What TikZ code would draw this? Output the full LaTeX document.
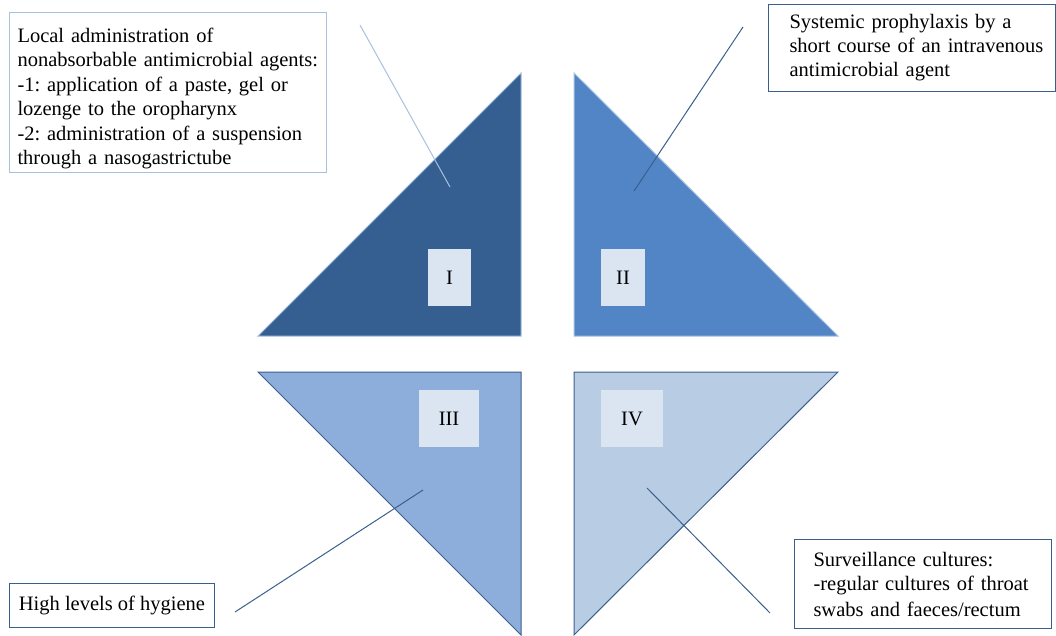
\documentclass[tikz,border=0pt]{standalone}
\usepackage{fontspec}
\setmainfont{Liberation Serif}
\usetikzlibrary{positioning}
\definecolor{quadI}{HTML}{365F91}
\definecolor{quadII}{HTML}{5185C5}
\definecolor{quadIII}{HTML}{8DAEDA}
\definecolor{quadIV}{HTML}{B8CCE4}
\definecolor{numfill}{HTML}{DBE5F1}
\definecolor{lightedge}{HTML}{A7C0DE}
\definecolor{darkedge}{HTML}{3A5F8E}
\frenchspacing

\begin{document}
\begin{tikzpicture}[x=1pt, y=-1pt, font=\fontsize{20.5}{24}\selectfont,
    tri/.style={fill=#1, line width=1pt, line join=miter},
    num/.style={fill=numfill, inner sep=0pt, minimum height=57pt},
    note/.style={draw=darkedge, line width=1pt, anchor=north west, align=left},
    leader/.style={draw=darkedge, line width=1pt}]

  \useasboundingbox (0,0) rectangle (1056,636);

  % the four quadrants
  \filldraw[tri=quadI, draw=lightedge] (258,336) -- (521,73) -- (521,336) -- cycle;
  \filldraw[tri=quadII, draw=lightedge] (574,73) -- (574,336) -- (838,336) -- cycle;
  \filldraw[tri=quadIII, draw=darkedge] (258,372) -- (521,372) -- (521,635) -- cycle;
  \filldraw[tri=quadIV, draw=darkedge] (574,372) -- (838,372) -- (574,635) -- cycle;

  % roman numerals
  \node[num, minimum width=43pt] (A) at (449.5,277.5) {I};
  \node[num, minimum width=44pt] (B) at (623,277.5) {II};
  \node[num, minimum width=60pt] (C) at (449,418.5) {III};
  \node[num, minimum width=62pt] (D) at (632,418.5) {IV};

  % explanations
  \node[note, draw=lightedge, text width=301pt, inner xsep=8pt, minimum height=158pt] (P) at (9,12)
    {\rule{0pt}{27pt}Local administration of\\ nonabsorbable antimicrobial agents:\\[1pt]
     -1: application of a paste, gel or\\ lozenge to the oropharynx\\[1pt]
     -2: administration of a suspension\\ through a nasogastrictube};
  \node[note, text width=245pt, inner xsep=21pt, minimum height=87pt] (Q) at (768,4)
    {\mbox{Systemic prophylaxis by a}\\ \mbox{short course of an intravenous}\\ \mbox{antimicrobial agent}};
  \node[note, align=center, minimum width=205pt, minimum height=44pt, inner xsep=0pt] (R) at (9,583)
    {High levels of hygiene};
  \node[note, text width=219pt, inner xsep=19pt, minimum height=89pt] (S) at (794,539)
    {Surveillance cultures:\\ -regular cultures of throat\\[2pt] swabs and faeces/rectum};

  % leader lines
  \coordinate (p1) at (360,25);  \coordinate (p2) at (450,187);
  \coordinate (q1) at (743,27);  \coordinate (q2) at (634,191);
  \coordinate (r1) at (235,612); \coordinate (r2) at (423,490);
  \coordinate (s1) at (647,488); \coordinate (s2) at (770,613);
  \draw[leader, draw=lightedge] (p1) -- (p2);
  \draw[leader] (q1) -- (q2);
  \draw[leader] (r1) -- (r2);
  \draw[leader] (s1) -- (s2);
\end{tikzpicture}
\end{document}
